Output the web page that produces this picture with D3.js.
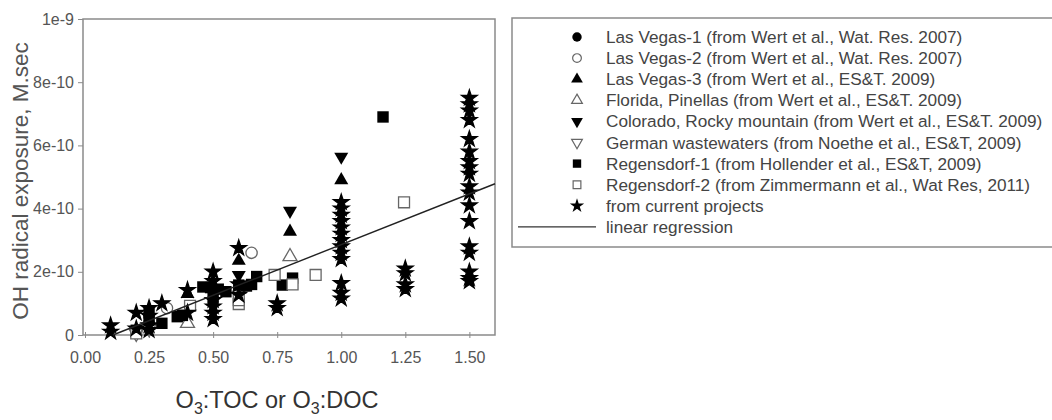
<!DOCTYPE html>
<html><head><meta charset="utf-8">
<script src="https://cdn.jsdelivr.net/npm/d3@7"></script>
<style>
body{margin:0;background:#fff;}
svg{display:block;font-family:"Liberation Sans",Arial,sans-serif;}
</style></head>
<body><svg id="chart" width="1052" height="420"></svg>
<script>
// ---------- DATA ----------
const xTicks = [0, 0.25, 0.5, 0.75, 1.0, 1.25, 1.5];
const xTickLabels = ["0.00","0.25","0.50","0.75","1.00","1.25","1.50"];
const yTicks = [0, 2e-10, 4e-10, 6e-10, 8e-10, 1e-9];
const yTickLabels = ["0","2e-10","4e-10","6e-10","8e-10","1e-9"];

const lasVegas1 = [[0.25,0.40e-10],[0.5,1.0e-10]];
const lasVegas2 = [[0.65,2.6e-10],[0.32,0.85e-10]];
const lasVegas3 = [[0.6,2.35e-10],[0.8,3.27e-10],[1.0,4.9e-10],[0.4,1.3e-10]];
const florida = [[0.4,0.37e-10],[0.8,2.48e-10],[0.6,1.45e-10]];
const colorado = [[0.6,1.9e-10],[0.8,3.93e-10],[1.0,5.64e-10]];
const german = [[0.2,0.05e-10],[0.25,0.2e-10]];
const regensdorf1 = [[0.2,0.15e-10],[0.25,0.5e-10],[0.25,0.7e-10],[0.3,0.37e-10],[0.36,0.58e-10],[0.38,0.62e-10],
  [0.46,1.52e-10],[0.49,1.5e-10],[0.52,1.45e-10],[0.5,1.2e-10],[0.55,1.37e-10],[0.6,1.58e-10],[0.63,1.55e-10],
  [0.65,1.6e-10],[0.67,1.85e-10],[0.77,1.58e-10],[0.81,1.8e-10],[1.163,6.9e-10]];
const regensdorf2 = [[0.2,0.05e-10],[0.41,0.92e-10],[0.6,0.98e-10],[0.6,1.1e-10],[0.74,1.9e-10],[0.81,1.6e-10],
  [0.9,1.9e-10],[1.245,4.2e-10]];
const currentProjects = [
  [0.1,0.3e-10],[0.1,0.1e-10],
  [0.2,0.7e-10],[0.2,0.2e-10],
  [0.25,0.85e-10],[0.25,0.6e-10],[0.25,0.3e-10],[0.25,0.15e-10],
  [0.3,1.0e-10],
  [0.4,1.42e-10],[0.4,0.7e-10],
  [0.5,2.0e-10],[0.5,1.7e-10],[0.5,1.4e-10],[0.5,1.1e-10],[0.5,0.9e-10],[0.5,0.7e-10],[0.5,0.5e-10],
  [0.6,2.75e-10],[0.6,1.6e-10],[0.6,1.27e-10],
  [0.75,1.0e-10],[0.75,0.85e-10],
  [1.0,4.2e-10],[1.0,4.0e-10],[1.0,3.8e-10],[1.0,3.6e-10],[1.0,3.4e-10],[1.0,3.2e-10],[1.0,3.0e-10],
  [1.0,2.8e-10],[1.0,2.6e-10],[1.0,2.4e-10],[1.0,1.64e-10],[1.0,1.33e-10],[1.0,1.15e-10],
  [1.25,2.1e-10],[1.25,1.95e-10],[1.25,1.6e-10],[1.25,1.45e-10],
  [1.5,7.5e-10],[1.5,7.3e-10],[1.5,7.1e-10],[1.5,6.8e-10],[1.5,6.2e-10],[1.5,5.8e-10],[1.5,5.5e-10],
  [1.5,5.3e-10],[1.5,5.1e-10],[1.5,4.7e-10],[1.5,4.5e-10],[1.5,4.1e-10],[1.5,3.6e-10],[1.5,2.8e-10],
  [1.5,2.6e-10],[1.5,2.0e-10],[1.5,1.8e-10],[1.5,1.7e-10]];
const regressionX = [0.109, 1.6];
const regressionSlope = 3.21e-10;
const regressionIntercept = -0.35e-10;

const legendLabels = [
  "Las Vegas-1 (from Wert et al., Wat. Res. 2007)",
  "Las Vegas-2 (from Wert et al., Wat. Res. 2007)",
  "Las Vegas-3 (from Wert et al., ES&T. 2009)",
  "Florida, Pinellas (from Wert et al., ES&T. 2009)",
  "Colorado, Rocky mountain (from Wert et al., ES&T. 2009)",
  "German wastewaters (from Noethe et al., ES&T, 2009)",
  "Regensdorf-1 (from Hollender et al., ES&T, 2009)",
  "Regensdorf-2 (from Zimmermann et al., Wat Res, 2011)",
  "from current projects",
  "linear regression"];

// ---------- CHART ----------
const svg = d3.select("#chart");
const x = d3.scaleLinear().domain([0, 1.6]).range([85, 495]);
const y = d3.scaleLinear().domain([0, 1e-9]).range([335, 19]);
const grey = "#8a8a8a";

// frame
svg.append("rect").attr("x", x(0) - 2).attr("y", y(1e-9)).attr("width", x(1.6) - x(0) + 2)
  .attr("height", y(0) - y(1e-9)).attr("fill", "none").attr("stroke", grey).attr("stroke-width", 1.5);

// axes
const xAxis = d3.axisBottom(x).tickValues(xTicks).tickFormat((d,i) => xTickLabels[i]).tickSize(3).tickPadding(14);
const gx = svg.append("g").attr("transform", `translate(0,${y(0)})`).call(xAxis);
gx.select(".domain").remove();
gx.selectAll(".tick line").attr("stroke", grey).attr("y1", -3).attr("y2", 3);
gx.selectAll("text").attr("fill", "#555").style("font-size", "16px");

const yAxis = d3.axisLeft(y).tickValues(yTicks).tickFormat((d,i) => yTickLabels[i]).tickSize(5).tickPadding(4);
const gy = svg.append("g").attr("transform", `translate(${x(0) - 2},0)`).call(yAxis);
gy.select(".domain").remove();
gy.selectAll(".tick line").attr("stroke", grey);
gy.selectAll("text").attr("fill", "#555").style("font-size", "16px");

// titles
svg.append("text").attr("transform", `translate(28,${(y(0)+y(1e-9))/2 + 4}) rotate(-90)`)
  .attr("text-anchor", "middle").attr("fill", "#555").style("font-size", "22.5px")
  .text("OH radical exposure, M.sec");
const xt = svg.append("text").attr("x", (x(0) + x(1.6)) / 2 - 13).attr("y", 408).attr("text-anchor", "middle")
  .attr("fill", "#333").style("font-size", "23.5px");
xt.append("tspan").text("O");
xt.append("tspan").attr("dy", 6).style("font-size", "16px").text("3");
xt.append("tspan").attr("dy", -6).text(":TOC or O");
xt.append("tspan").attr("dy", 6).style("font-size", "16px").text("3");
xt.append("tspan").attr("dy", -6).text(":DOC");

// marker styles
const styles = [
  {data: lasVegas1, type: d3.symbolCircle, size: 100, fill: "#000", stroke: "none", rot: 0, ls: 70},
  {data: lasVegas2, type: d3.symbolCircle, size: 100, fill: "#fff", stroke: "#666", rot: 0, ls: 60},
  {data: lasVegas3, type: d3.symbolTriangle, size: 85, fill: "#000", stroke: "none", rot: 0, ls: 60},
  {data: florida, type: d3.symbolTriangle, size: 85, fill: "#fff", stroke: "#666", rot: 0, ls: 50},
  {data: colorado, type: d3.symbolTriangle, size: 85, fill: "#000", stroke: "none", rot: 180, ls: 60},
  {data: german, type: d3.symbolTriangle, size: 85, fill: "#fff", stroke: "#666", rot: 180, ls: 50},
  {data: regensdorf1, type: d3.symbolSquare, size: 130, fill: "#000", stroke: "none", rot: 0, ls: 70},
  {data: regensdorf2, type: d3.symbolSquare, size: 120, fill: "#fff", stroke: "#666", rot: 0, ls: 60},
  {data: currentProjects, type: d3.symbolStar, size: 75, fill: "#000", stroke: "#000", rot: 0, ls: 35}
];

const plot = svg.append("g");
styles.forEach(s => {
  plot.selectAll(null).data(s.data).enter().append("path")
    .attr("d", d3.symbol().type(s.type).size(s.size))
    .attr("transform", d => `translate(${x(d[0])},${y(d[1])}) rotate(${s.rot})`)
    .attr("fill", s.fill).attr("stroke", s.stroke).attr("stroke-width", 1.3);
});

// regression line
svg.append("line")
  .attr("x1", x(regressionX[0])).attr("y1", y(regressionSlope * regressionX[0] + regressionIntercept))
  .attr("x2", x(regressionX[1])).attr("y2", y(regressionSlope * regressionX[1] + regressionIntercept))
  .attr("stroke", "#222").attr("stroke-width", 1.4);

// legend
const lg = svg.append("g");
lg.append("rect").attr("x", 512).attr("y", 18).attr("width", 600).attr("height", 229)
  .attr("fill", "#fff").attr("stroke", grey).attr("stroke-width", 1.5);
legendLabels.forEach((lab, i) => {
  const cy = 38 + i * 21.1;
  if (i < styles.length) {
    const s = styles[i];
    lg.append("path").attr("d", d3.symbol().type(s.type).size(s.ls))
      .attr("transform", `translate(577,${cy - 1}) rotate(${s.rot})`)
      .attr("fill", s.fill).attr("stroke", s.stroke).attr("stroke-width", 1.2);
  } else {
    lg.append("line").attr("x1", 518).attr("x2", 596).attr("y1", cy - 1).attr("y2", cy - 1)
      .attr("stroke", "#333").attr("stroke-width", 1.3);
  }
  lg.append("text").attr("x", 606).attr("y", cy + 5).attr("fill", "#444").style("font-size", "17.2px").text(lab);
});
</script></body></html>
